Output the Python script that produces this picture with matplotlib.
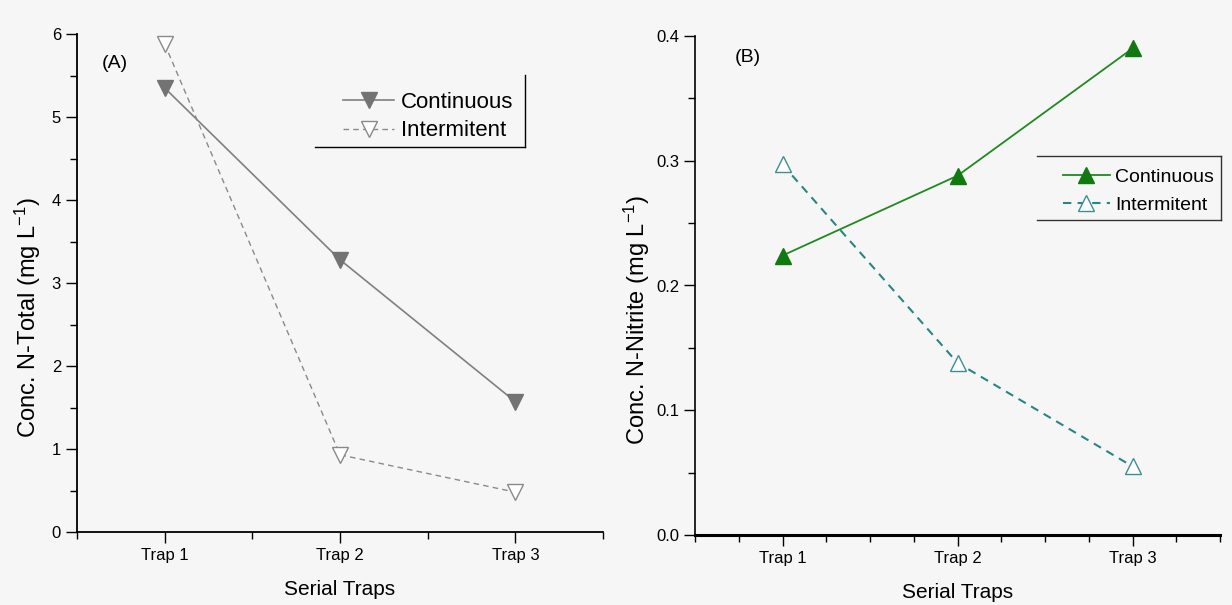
import numpy as np
import matplotlib
matplotlib.use('Agg')
import matplotlib.pyplot as plt
from matplotlib.ticker import MultipleLocator, FormatStrFormatter
from matplotlib.lines import Line2D

plt.rcParams['font.family'] = ['Liberation Sans', 'DejaVu Sans']
plt.rcParams['mathtext.fontset'] = 'custom'
plt.rcParams['mathtext.rm'] = 'Liberation Sans'
plt.rcParams['mathtext.default'] = 'regular'

# data
traps       = ['Trap 1', 'Trap 2', 'Trap 3']
ntotal_cont = [5.35, 3.28, 1.57]
ntotal_int  = [5.88, 0.93, 0.48]
nitr_cont   = [0.224, 0.288, 0.390]
nitr_int    = [0.297, 0.138, 0.055]

x = np.arange(1, len(traps) + 1)

fig = plt.figure(figsize=(12.32, 6.05), dpi=100, facecolor='#f6f6f6')
W, H = 1232., 605.

def px_axes(l, t, r, b):
    return fig.add_axes([l / W, 1 - b / H, (r - l) / W, (b - t) / H])

axA = px_axes(77, 34, 603, 532)
axB = px_axes(695, 36, 1220, 535)

for ax in (axA, axB):
    ax.set_facecolor('none')
    ax.spines['top'].set_visible(False)
    ax.spines['right'].set_visible(False)
    ax.set_xlim(0.5, 3.5)
    ax.set_xticks(x)
    ax.set_xticklabels(traps)
    ax.tick_params(which='major', direction='out', length=8, width=1.0, labelsize=12, colors='black')
    ax.tick_params(which='minor', direction='out', length=5, width=1.0)
    ax.set_xlabel('Serial Traps', fontsize=15, labelpad=12)

# ---------------- (A) N-Total
axA.plot(x, ntotal_cont, '-', color='#808080', lw=1.2, marker='v', ms=11,
         mfc='#737373', mec='#737373', label='Continuous')
axA.plot(x, ntotal_int, '--', color='#8a8a8a', lw=1.0, dashes=(4, 3), marker='v', ms=11,
         mfc='white', mec='#8a8a8a', mew=1.0, label='Intermitent')
axA.set_ylim(0, 6)
axA.yaxis.set_major_locator(MultipleLocator(1))
axA.yaxis.set_minor_locator(MultipleLocator(0.5))
axA.xaxis.set_minor_locator(MultipleLocator(0.5))
axA.spines['left'].set_linewidth(1.3)
axA.spines['bottom'].set_linewidth(1.3)
axA.set_ylabel(r'Conc. N-Total (mg L$^{-1}$)', fontsize=17)
axA.yaxis.set_label_coords(-0.064, 0.43)
axA.text(102 / W, 1 - 63 / H, '(A)', transform=fig.transFigure, fontsize=14, va='center')

legA = axA.legend(loc='upper left', bbox_to_anchor=(343 / W, 1 - 92 / H),
                  bbox_transform=fig.transFigure, frameon=False, fontsize=16,
                  handlelength=2.3, handletextpad=0.3, labelspacing=0.33,
                  borderpad=0, borderaxespad=0)
fig.add_artist(Line2D([525 / W, 525 / W], [1 - 75 / H, 1 - 147 / H], color='black', lw=1.0))
fig.add_artist(Line2D([315 / W, 525 / W], [1 - 147 / H, 1 - 147 / H], color='black', lw=1.0))

# ---------------- (B) N-Nitrite
axB.plot(x, nitr_cont, '-', color='#1f8a1f', lw=1.3, marker='^', ms=11,
         mfc='#107a10', mec='#107a10', label='Continuous')
axB.plot(x, nitr_int, '--', color='#2a8585', lw=1.5, dashes=(4, 3), marker='^', ms=11,
         mfc='white', mec='#3a9090', mew=1.0, label='Intermitent')
axB.set_ylim(0, 0.4)
axB.yaxis.set_major_locator(MultipleLocator(0.1))
axB.yaxis.set_minor_locator(MultipleLocator(0.05))
axB.xaxis.set_minor_locator(MultipleLocator(0.25))
axB.yaxis.set_major_formatter(FormatStrFormatter('%.1f'))
axB.spines['left'].set_linewidth(1.2)
axB.spines['bottom'].set_linewidth(2.2)
axB.set_ylabel(r'Conc. N-Nitrite (mg L$^{-1}$)', fontsize=17)
axB.yaxis.set_label_coords(-0.082, 0.43)
axB.text(735 / W, 1 - 57 / H, '(B)', transform=fig.transFigure, fontsize=14, va='center')

legB = axB.legend(loc='upper left', bbox_to_anchor=(1063 / W, 1 - 168 / H),
                  bbox_transform=fig.transFigure, frameon=False, fontsize=14,
                  handlelength=2.4, handletextpad=0.3, labelspacing=0.55,
                  borderpad=0, borderaxespad=0)
fig.add_artist(Line2D([1037 / W, 1221 / W], [1 - 156 / H, 1 - 156 / H], color='#333333', lw=1.0))
fig.add_artist(Line2D([1037 / W, 1221 / W], [1 - 220 / H, 1 - 220 / H], color='#333333', lw=1.0))
fig.add_artist(Line2D([1221 / W, 1221 / W], [1 - 156 / H, 1 - 220 / H], color='#333333', lw=1.0))

fig.savefig('out.png', dpi=100, facecolor=fig.get_facecolor())
